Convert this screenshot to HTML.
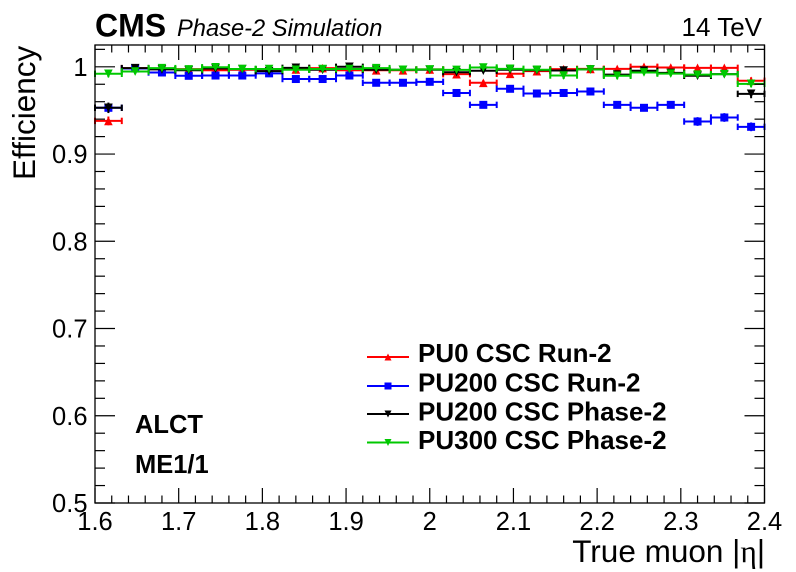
<!DOCTYPE html>
<html lang="en">
<head>
<meta charset="utf-8">
<title>ALCT efficiency vs true muon eta</title>
<style>
html,body{margin:0;padding:0;background:#fff;width:796px;height:572px;overflow:hidden}
svg{display:block}
text{font-family:"Liberation Sans",sans-serif;fill:#000}
</style>
</head>
<body>
<svg id="chart" xmlns="http://www.w3.org/2000/svg" width="796" height="572" viewBox="0 0 796 572">
  <rect width="796" height="572" fill="#fff"/>
  <g id="marks"></g>
  <g id="axes"></g>
  <rect x="95" y="45" width="669.5" height="458" fill="none" stroke="#000" stroke-width="1.3"/>
  <text x="95" y="36.5" font-size="32" font-weight="bold">CMS</text>
  <text x="177" y="36" font-size="23.7" font-style="italic">Phase-2 Simulation</text>
  <text x="762" y="36" font-size="26" text-anchor="end">14 TeV</text>
  <text transform="translate(35,180) rotate(-90)" font-size="31.5">Efficiency</text>
  <text x="765" y="562" font-size="31.5" text-anchor="end">True muon |<tspan font-family="Liberation Serif">η</tspan>|</text>
  <text x="135" y="433" font-size="25.5" font-weight="bold">ALCT</text>
  <text x="135" y="473" font-size="25.5" font-weight="bold">ME1/1</text>
  <g id="legend"></g>
</svg>
<script>
const binCount = 25;
const xMin = 1.6;
const xMax = 2.4;
const yMin = 0.5;
const yMax = 1.025;
const xTickLabels = ["1.6","1.7","1.8","1.9","2","2.1","2.2","2.3","2.4"];
const yTickLabels = ["0.5","0.6","0.7","0.8","0.9","1"];
const seriesNames = ["PU0 CSC Run-2","PU200 CSC Run-2","PU200 CSC Phase-2","PU300 CSC Phase-2"];
const seriesColors = ["#ff0000","#0000ff","#000000","#00c800"];
const seriesShapes = ["up","square","down","down"];
const pu0Run2 = [0.938,0.9985,0.9973,0.9973,0.996,0.9966,0.997,0.997,0.9985,0.996,0.996,0.996,0.997,0.9916,0.9817,0.992,0.995,0.9973,0.9976,0.9976,1.0,0.9992,0.9988,0.9988,0.984];
const pu200Run2 = [0.953,0.998,0.9935,0.9897,0.99,0.99,0.9925,0.986,0.986,0.99,0.9817,0.9817,0.9828,0.97,0.9564,0.9748,0.9694,0.97,0.9717,0.9564,0.953,0.9564,0.9373,0.9419,0.9312];
const pu200Phase2 = [0.953,0.9985,0.997,0.996,0.998,0.9973,0.995,0.9988,0.9966,1.0,0.9966,0.9966,0.9966,0.9938,0.9955,0.9966,0.996,0.9957,0.997,0.9911,0.9955,0.993,0.9897,0.9916,0.969];
const pu300Phase2 = [0.992,0.9946,0.9985,0.997,0.9995,0.9975,0.9975,0.9966,0.9975,0.9975,0.9985,0.9966,0.997,0.9965,0.9992,0.9977,0.9966,0.99,0.997,0.9897,0.9935,0.9922,0.991,0.9915,0.9805];
const pu0Errors = [0.005,0.002,0.002,0.002,0.002,0.002,0.002,0.002,0.002,0.002,0.002,0.002,0.002,0.003,0.003,0.003,0.003,0.002,0.002,0.002,0.002,0.002,0.002,0.002,0.004];
const pu200Run2Errors = [0.005,0.003,0.003,0.003,0.003,0.003,0.003,0.003,0.003,0.003,0.003,0.003,0.003,0.003,0.004,0.003,0.003,0.003,0.003,0.004,0.004,0.004,0.005,0.005,0.005];
const pu200Phase2Errors = [0.006,0.002,0.002,0.002,0.002,0.002,0.002,0.002,0.002,0.002,0.002,0.002,0.002,0.002,0.002,0.002,0.002,0.002,0.002,0.003,0.003,0.003,0.003,0.003,0.005];
const pu300Phase2Errors = [0.004,0.003,0.002,0.002,0.002,0.002,0.002,0.002,0.002,0.002,0.002,0.002,0.002,0.002,0.002,0.002,0.002,0.004,0.002,0.004,0.003,0.003,0.004,0.003,0.004];
const seriesValues = [pu0Run2,pu200Run2,pu200Phase2,pu300Phase2];
const seriesErrors = [pu0Errors,pu200Run2Errors,pu200Phase2Errors,pu300Phase2Errors];

const NS = "http://www.w3.org/2000/svg";
const plotLeft = 95, plotRight = 764.5, plotTop = 45, plotBottom = 503;
function xScale(v){ return plotLeft + (v - xMin) / (xMax - xMin) * (plotRight - plotLeft); }
function yScale(v){ return plotBottom - (v - yMin) / (yMax - yMin) * (plotBottom - plotTop); }
function make(tag, attrs, parent){
  const el = document.createElementNS(NS, tag);
  for (const k in attrs) el.setAttribute(k, attrs[k]);
  parent.appendChild(el);
  return el;
}
function line(x1,y1,x2,y2,color,w,parent){
  return make("line",{x1:x1,y1:y1,x2:x2,y2:y2,stroke:color,"stroke-width":w},parent);
}
function marker(shape,x,y,color,size,parent){
  if (shape === "square") {
    return make("rect",{x:x-size,y:y-size,width:size*2,height:size*2,fill:color},parent);
  }
  const dir = shape === "up" ? -1 : 1;
  const pts = [[x-size,y-dir*size],[x+size,y-dir*size],[x,y+dir*size]].map(p=>p.join(",")).join(" ");
  return make("polygon",{points:pts,fill:color},parent);
}

const axes = document.getElementById("axes");
for (let i = 0; i <= 40; i++) {
  const v = xMin + i * 0.02;
  const major = i % 5 === 0;
  const len = major ? 15 : 7.5;
  const px = xScale(v);
  const b = line(px,plotBottom,px,plotBottom-len,"#000",1.2,axes);
  
  
  const t = line(px,plotTop,px,plotTop+len,"#000",1.2,axes);
  
  
}
for (let i = 0; i <= 26; i++) {
  const v = yMin + i * 0.02;
  const major = i % 5 === 0;
  const len = major ? 20 : 10;
  const py = yScale(v);
  const l = line(plotLeft,py,plotLeft+len,py,"#000",1.2,axes);
  
  
  const r = line(plotRight,py,plotRight-len,py,"#000",1.2,axes);
  
  
}
xTickLabels.forEach(function(label){
  const t = make("text",{x:xScale(parseFloat(label)),y:530,"font-size":25.5,"text-anchor":"middle"},axes);
  t.textContent = label;
  
  
});
yTickLabels.forEach(function(label){
  const t = make("text",{x:87.5,y:yScale(parseFloat(label))+9,"font-size":25.5,"text-anchor":"end"},axes);
  t.textContent = label;
  
  
});

const marks = document.getElementById("marks");
const binWidth = (xMax - xMin) / binCount;
seriesValues.forEach(function(values, s){
  const color = seriesColors[s];
  const group = make("g",{},marks);
  
  
  values.forEach(function(v, i){
    const x0 = xScale(xMin + i * binWidth);
    const x1 = xScale(xMin + (i + 1) * binWidth);
    const xc = (x0 + x1) / 2;
    const y = yScale(v);
    const yUp = yScale(Math.min(v + seriesErrors[s][i], 1.002));
    const yDn = yScale(v - seriesErrors[s][i]);
    const pt = make("g",{},group);
    
    
    line(x0,y,x1,y,color,2,pt);
    line(x0,y-3.2,x0,y+3.2,color,2,pt);
    line(x1,y-3.2,x1,y+3.2,color,2,pt);
    line(xc,yUp,xc,yDn,color,2,pt);
    marker(seriesShapes[s],xc,y,color,seriesShapes[s]==="square"?4:4.3,pt);
  });
});

const legend = document.getElementById("legend");
const legendLineY = [357,386,414,442.5];
const legendTextY = [362,391.5,420.5,449];
seriesNames.forEach(function(name, s){
  const g = make("g",{},legend);
  
  
  line(367,legendLineY[s],409,legendLineY[s],seriesColors[s],2,g);
  marker(seriesShapes[s],388,legendLineY[s],seriesColors[s],seriesShapes[s]==="square"?3.5:3.5,g);
  const t = make("text",{x:418,y:legendTextY[s],"font-size":26,"font-weight":"bold"},g);
  t.textContent = name;
});
</script>
</body>
</html>
